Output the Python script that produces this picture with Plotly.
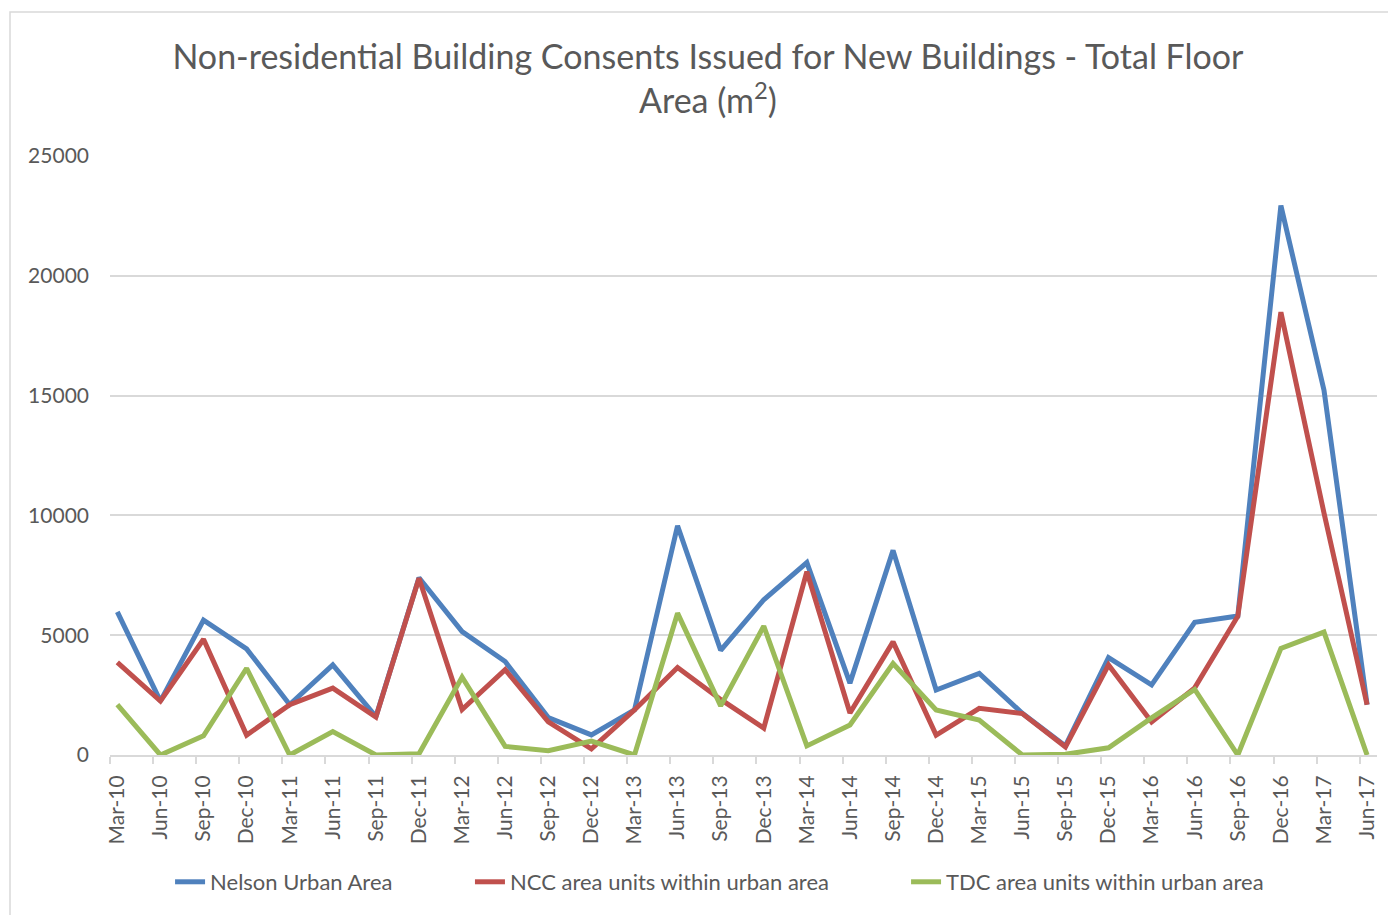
import plotly.graph_objects as go

quarters = ["Mar-10", "Jun-10", "Sep-10", "Dec-10", "Mar-11", "Jun-11", "Sep-11", "Dec-11",
            "Mar-12", "Jun-12", "Sep-12", "Dec-12", "Mar-13", "Jun-13", "Sep-13", "Dec-13",
            "Mar-14", "Jun-14", "Sep-14", "Dec-14", "Mar-15", "Jun-15", "Sep-15", "Dec-15",
            "Mar-16", "Jun-16", "Sep-16", "Dec-16", "Mar-17", "Jun-17"]

nelson_urban = [5970, 2250, 5630, 4430, 2100, 3760, 1600, 7400, 5150, 3900, 1560, 840,
                1880, 9570, 4370, 6480, 8030, 3000, 8540, 2710, 3410, 1740, 380, 4060,
                2930, 5540, 5800, 22930, 15230, 2100]
ncc_area = [3870, 2250, 4830, 830, 2100, 2790, 1580, 7380, 1900, 3560, 1380, 260,
            1880, 3650, 2320, 1120, 7650, 1750, 4720, 830, 1950, 1730, 340, 3760,
            1380, 2800, 5790, 18480, 10100, 2100]
tdc_area = [2100, 0, 800, 3620, 0, 980, 0, 50, 3250, 360, 180, 580,
            0, 5920, 2050, 5380, 380, 1250, 3820, 1880, 1460, 0, 30, 300,
            1550, 2740, 0, 4450, 5130, 0]

series = [
    ("Nelson Urban Area", nelson_urban, "#4F81BD", "legend", 0.0474),
    ("NCC area units within urban area", ncc_area, "#C0504D", "legend2", 0.2841),
    ("TDC area units within urban area", tdc_area, "#9BBB59", "legend3", 0.6283),
]

FONT = "Lato"
GREY = "#595959"
positions = list(range(len(quarters)))

fig = go.Figure()
legends = {}
for name, vals, color, leg, lx in series:
    fig.add_trace(go.Scatter(
        x=positions, y=vals, name=name, mode="lines", legend=leg,
        line=dict(color=color, width=5),
    ))
    # one legend box per series so the spacing matches the original
    legends[leg] = dict(
        orientation="h", x=lx, xanchor="left", y=-0.212, yanchor="middle",
        font=dict(family=FONT, size=22, color=GREY), bgcolor="rgba(0,0,0,0)",
    )

fig.update_layout(
    width=1388, height=907,
    margin=dict(l=102, r=19, t=148, b=160),
    paper_bgcolor="white", plot_bgcolor="white",
    font=dict(family=FONT, color=GREY),
    title=dict(
        text="Non-residential Building Consents Issued for New Buildings - Total Floor<br>Area (m<sup>2</sup>)",
        font=dict(family=FONT, size=34, color=GREY),
        x=0.5043, xanchor="center", xref="container",
        y=1 - 61 / 907, yanchor="top", yref="container",
    ),
    showlegend=True,
    **legends,
)

fig.update_xaxes(
    range=[-0.17, 29.23],
    tickmode="array", tickvals=positions, ticktext=quarters,
    tickangle=-90, ticks="", ticklabelstandoff=10,
    tickfont=dict(family=FONT, size=21, color=GREY),
    showgrid=False, zeroline=False,
    showline=True, linecolor="#d9d9d9", linewidth=2,
    minor=dict(ticks="outside", tickmode="linear", tick0=-0.17, dtick=1,
               ticklen=7, tickcolor="#d9d9d9", tickwidth=2, showgrid=False),
)
fig.update_yaxes(
    range=[0, 25000], tickmode="linear", tick0=0, dtick=5000, tickformat="d",
    showgrid=True, gridcolor="#d9d9d9", gridwidth=1.5,
    zeroline=False, showline=False, ticks="", ticklabelstandoff=20,
    tickfont=dict(family=FONT, size=21, color=GREY),
)

# light outer chart border
fig.add_shape(type="rect", xref="paper", yref="paper",
              x0=(2 - 102) / 1267, x1=1.05, y0=-0.3, y1=(747 - 4) / 599,
              line=dict(color="#d9d9d9", width=1.5), fillcolor="rgba(0,0,0,0)", layer="below")

fig.write_html("out.html")
